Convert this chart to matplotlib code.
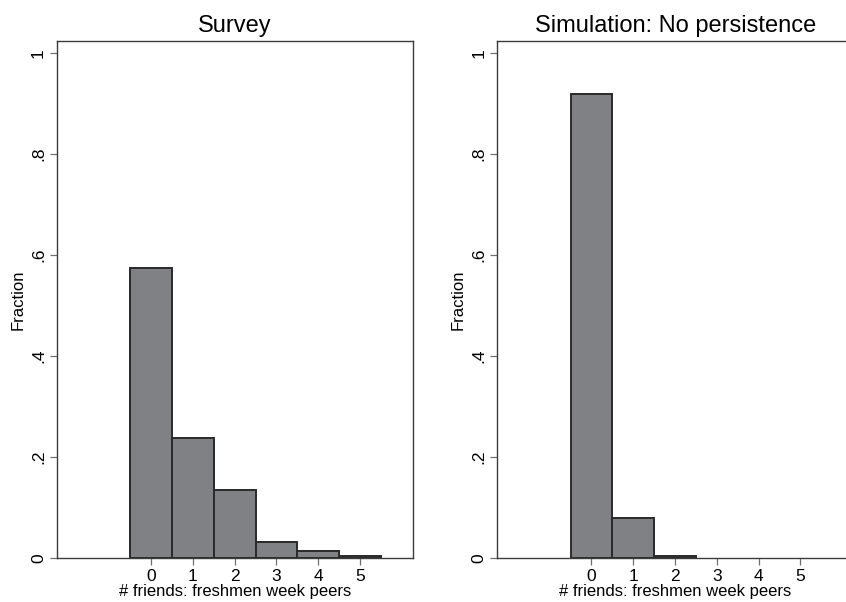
import matplotlib
matplotlib.use("Agg")
import matplotlib.pyplot as plt

plt.rcParams['font.family'] = ['Liberation Sans', 'DejaVu Sans']

# share of students by number of friends among freshmen week peers
friends = [0, 1, 2, 3, 4, 5]
survey = [0.574, 0.238, 0.135, 0.032, 0.014, 0.003]
no_persistence = [0.918, 0.079, 0.003, 0.0, 0.0, 0.0]

titles = ["Survey", "Simulation: No persistence"]
yticks = [0, 0.2, 0.4, 0.6, 0.8, 1.0]
ytick_labels = ["0", ".2", ".4", ".6", ".8", "1"]

bar_color = '#808184'
edge_color = '#2a2a2a'
axis_color = '#3c3c3c'

fig = plt.figure(figsize=(8.46, 6.02), dpi=100)
ax_left = fig.add_axes([0.0674, 0.0731, 0.4204, 0.8593])
ax_right = fig.add_axes([0.588, 0.0731, 0.4204, 0.8593])

for ax, vals, title in zip([ax_left, ax_right], [survey, no_persistence], titles):
    # empty bins get no outline
    xs = [f for f, v in zip(friends, vals) if v > 0]
    hs = [v for v in vals if v > 0]
    ax.bar(xs, hs, width=1.0, color=bar_color, edgecolor=edge_color,
           linewidth=1.4, zorder=2)
    ax.set_xlim(-2.25, 6.26)
    ax.set_ylim(0, 1.024)
    ax.set_xticks(friends)
    ax.set_xticklabels([str(f) for f in friends])
    ax.set_yticks(yticks)
    ax.set_yticklabels(ytick_labels, rotation=90, va='center')
    ax.tick_params(axis='both', direction='out', length=5, width=0.9,
                   color='#707070', labelsize=12.5, pad=3)
    for side in ax.spines.values():
        side.set_color(axis_color)
        side.set_linewidth(1.0)
    ax.set_title(title, fontsize=17, pad=6)
    ax.set_xlabel("# friends: freshmen week peers", fontsize=12, labelpad=0)
    ax.set_ylabel("Fraction", fontsize=12, labelpad=4)

fig.savefig("out.png", dpi=100, facecolor='white')
